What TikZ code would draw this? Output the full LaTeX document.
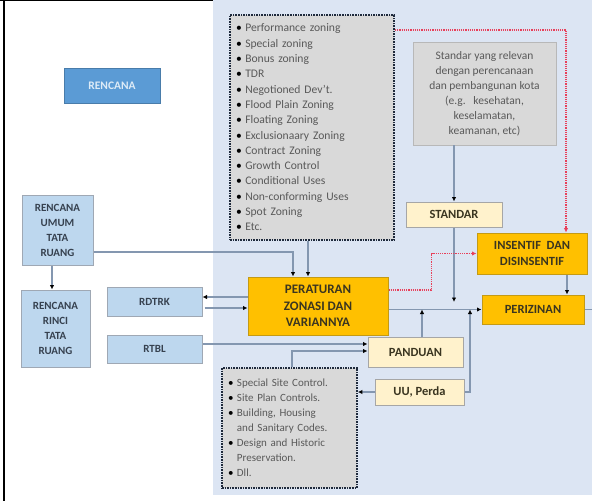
\documentclass[tikz,border=0pt]{standalone}
\usepackage{fontspec}
\setmainfont{Carlito}
\usetikzlibrary{arrows.meta,calc}
\definecolor{bgblue}{HTML}{DCE5F3}
\definecolor{lblue}{HTML}{BDD7EE}
\definecolor{lblueline}{HTML}{9FA8B4}
\definecolor{lbluetext}{HTML}{36414F}
\definecolor{midblue}{HTML}{5B9BD5}
\definecolor{midbluetext}{HTML}{DDEBF7}
\definecolor{gold}{HTML}{FFC000}
\definecolor{goldline}{HTML}{C49A14}
\definecolor{goldtext}{HTML}{3A3520}
\definecolor{cream}{HTML}{FFF2CC}
\definecolor{creamline}{HTML}{A6A6A6}
\definecolor{graybox}{HTML}{D9D9D9}
\definecolor{graytext}{HTML}{595959}
\definecolor{dotline}{HTML}{1F2A3C}
\definecolor{connline}{HTML}{8497B0}
\definecolor{redline}{HTML}{E8405A}
\tikzset{
  lbox/.style={draw=lblueline, fill=lblue, line width=1pt, text=lbluetext, align=center, inner sep=0pt,
    font=\bfseries\fontsize{11}{15}\selectfont},
  ybox/.style={draw=goldline, fill=gold, line width=1pt, text=goldtext, align=center, inner sep=0pt,
    font=\bfseries\fontsize{13}{16.5}\selectfont},
  cbox/.style={draw=creamline, fill=cream, line width=1pt, text=goldtext, align=center, inner sep=0pt,
    font=\bfseries\fontsize{12.5}{16}\selectfont},
  dotbox/.style={draw=dotline, fill=graybox, line width=1.8pt, dash pattern=on 1.6pt off 1pt,
    text=graytext, inner sep=0pt, font=\fontsize{11.6}{15.3}\selectfont},
  conn/.style={draw=connline, line width=1.6pt, -{Latex[length=4.5pt,width=4.5pt,color=black]}},
  plainconn/.style={draw=connline, line width=1.6pt},
  redconn/.style={draw=redline, line width=1.3pt, dash pattern=on 1.2pt off 1pt,
    -{Latex[length=4.5pt,width=4.5pt,color=redline]}},
}
\newcommand{\bul}{{\color{black}\textbullet}\hspace{3.5pt}}
\begin{document}
\begin{tikzpicture}[x=1pt,y=-1pt]
\useasboundingbox (0,0) rectangle (592,501);
\fill[white] (0,0) rectangle (592,501);
\fill[bgblue] (213,0) rectangle (592,495);
\draw[black, line width=2pt] (4,0) -- (4,501);
\draw[black, line width=1pt] (0,0.5) -- (213,0.5);

% nodes
\node[draw=midblue!80!black, fill=midblue, line width=0.8pt, text=midbluetext, inner sep=0pt,
  minimum width=96pt, minimum height=35pt, font=\bfseries\fontsize{11.5}{13}\selectfont] (rencana) at (112,86) {RENCANA};
\node[lbox, minimum width=71pt, minimum height=70pt] (rutr) at (57.5,230) {RENCANA\\UMUM\\TATA\\RUANG};
\node[lbox, minimum width=69pt, minimum height=77pt] (rrtr) at (55.5,328.5) {RENCANA\\RINCI\\TATA\\RUANG};
\node[lbox, minimum width=95pt, minimum height=29pt] (rdtrk) at (154.5,301.5) {RDTRK};
\node[lbox, minimum width=95pt, minimum height=28pt] (rtbl) at (154.5,349) {RTBL};
\node[ybox, minimum width=140pt, minimum height=58pt] (pz) at (318,306) {PERATURAN\\ZONASI DAN\\VARIANNYA};
\node[cbox, minimum width=96pt, minimum height=25pt] (standar) at (454,214.5) {STANDAR};
\node[ybox, minimum width=110pt, minimum height=41pt, font=\bfseries\fontsize{12.5}{16}\selectfont] (insentif) at (532,253.5) {INSENTIF\ \ DAN\\DISINSENTIF};
\node[ybox, minimum width=102pt, minimum height=29pt, font=\bfseries\fontsize{12.5}{16}\selectfont] (perizinan) at (533,309.5) {PERIZINAN};
\node[cbox, minimum width=95pt, minimum height=30pt] (panduan) at (415.5,352) {PANDUAN};
\node[cbox, minimum width=89pt, minimum height=26pt] (uu) at (419.5,392) {UU, Perda};

\node[fill=graybox, draw=graybox!85!black, line width=0.5pt, text=graytext, inner sep=0pt, align=center,
  minimum width=143pt, minimum height=103pt, font=\fontsize{11.5}{15}\selectfont] (std) at (484.5,93.5)
  {Standar yang relevan\\dengan perencanaan\\dan pembangunan kota\\(e.g.\ \ \ kesehatan,\\keselamatan,\\keamanan, etc)};

\node[dotbox, minimum width=164pt, minimum height=225pt, text width=152pt, align=left] (listA) at (312,127.5)
  {\bul Performance zoning\\ \bul Special zoning\\ \bul Bonus zoning\\ \bul TDR\\
   \bul Negotioned Dev't.\\ \bul Flood Plain Zoning\\ \bul Floating Zoning\\
   \bul Exclusionaary Zoning\\ \bul Contract Zoning\\ \bul Growth Control\\
   \bul Conditional Uses\\ \bul Non-conforming Uses\\ \bul Spot Zoning\\ \bul Etc.};

\node[dotbox, minimum width=135pt, minimum height=120pt, text width=123pt, align=left,
  font=\fontsize{11}{15}\selectfont] (listB) at (289.5,428)
  {\begin{tabular}{@{}l@{\hspace{3.5pt}}l@{}}
   {\color{black}\textbullet} & Special Site Control.\\
   {\color{black}\textbullet} & Site Plan Controls.\\
   {\color{black}\textbullet} & Building, Housing\\
        & and Sanitary Codes.\\
   {\color{black}\textbullet} & Design and Historic\\
        & Preservation.\\
   {\color{black}\textbullet} & Dll.
   \end{tabular}};

\coordinate (rend) at (592,309.5);

% connectors
\draw[conn] (rutr.south -| 52,0) -- (rrtr.north -| 52,0);
\draw[conn] (rutr.east |- 0,252) -| ([xshift=-25pt]pz.north);
\draw[conn] ([xshift=-4pt]listA.south) -- ([xshift=-10pt]pz.north);
\draw[conn] (pz.west |- 0,297) -- (rdtrk.east |- 0,297);
\draw[conn] ([xshift=2pt]rdtrk.east |- 0,308) -- (pz.west |- 0,308);
\draw[conn] (rtbl.east |- 0,344) -- (panduan.west |- 0,344);
\draw[conn] ([xshift=2.5pt]listB.north) |- (panduan.west |- 0,351);
\draw[conn] (pz.east |- perizinan.west) -- (perizinan.west);
\draw[conn] (panduan.north -| 422,0) -- (perizinan.west -| 422,0);
\draw[conn] (uu.east) -| (perizinan.west -| 470,0);
\draw[conn] (uu.west) -- (listB.east |- uu.west);
\draw[conn] (standar.south) -- (standar.south |- 0,302);
\draw[conn] (std.south -| standar.north) -- (standar.north);
\draw[conn] (insentif.south -| 567,0) -- (perizinan.north -| 567,0);
\draw[plainconn] (perizinan.east) -- (rend);

\draw[redconn] (listA.east |- 0,30) -| (insentif.north -| 566,0);
\draw[redconn] (pz.east |- 0,290) -| ($(insentif.west)+(-45,0)$) -- (insentif.west);
\end{tikzpicture}
\end{document}
